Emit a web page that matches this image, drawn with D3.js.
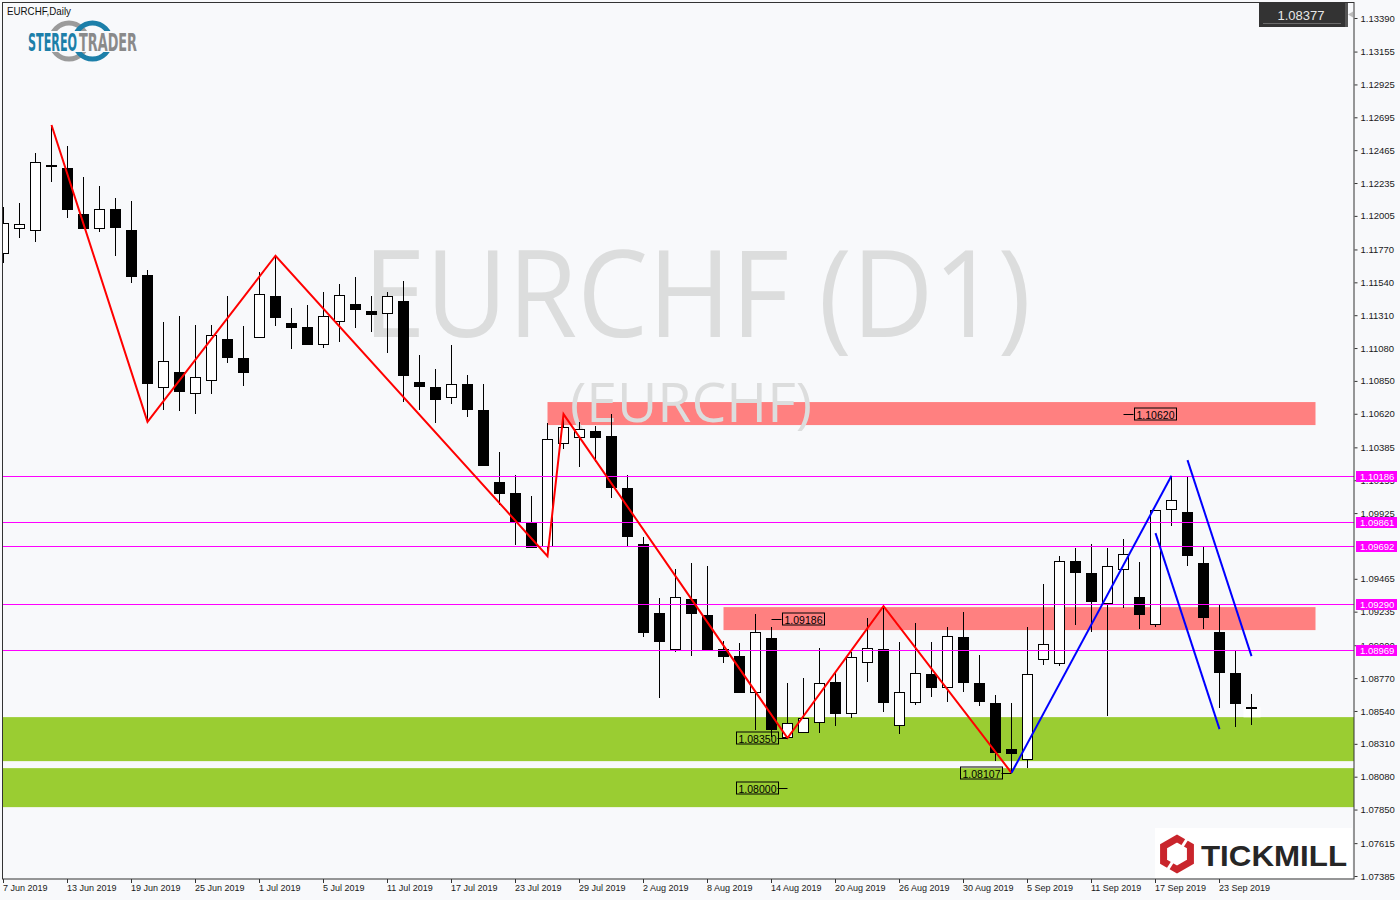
<!DOCTYPE html>
<html><head><meta charset="utf-8">
<script src="https://cdnjs.cloudflare.com/ajax/libs/d3/7.8.5/d3.min.js"></script>
<style>html,body{margin:0;padding:0;background:#f8f9fb;}svg{display:block;}</style>
</head><body><svg id="c" width="1400" height="900"></svg>
<script>
// ---------- DATA ----------
const dates = ["2019-06-07","2019-06-10","2019-06-11","2019-06-12","2019-06-13","2019-06-14","2019-06-17","2019-06-18","2019-06-19","2019-06-20",
"2019-06-21","2019-06-24","2019-06-25","2019-06-26","2019-06-27","2019-06-28","2019-07-01","2019-07-02","2019-07-03","2019-07-04",
"2019-07-05","2019-07-08","2019-07-09","2019-07-10","2019-07-11","2019-07-12","2019-07-15","2019-07-16","2019-07-17","2019-07-18",
"2019-07-19","2019-07-22","2019-07-23","2019-07-24","2019-07-25","2019-07-26","2019-07-29","2019-07-30","2019-07-31","2019-08-01",
"2019-08-02","2019-08-05","2019-08-06","2019-08-07","2019-08-08","2019-08-09","2019-08-12","2019-08-13","2019-08-14","2019-08-15",
"2019-08-16","2019-08-19","2019-08-20","2019-08-21","2019-08-22","2019-08-23","2019-08-26","2019-08-27","2019-08-28","2019-08-29",
"2019-08-30","2019-09-02","2019-09-03","2019-09-04","2019-09-05","2019-09-06","2019-09-09","2019-09-10","2019-09-11","2019-09-12",
"2019-09-13","2019-09-16","2019-09-17","2019-09-18","2019-09-19","2019-09-20","2019-09-23","2019-09-24","2019-09-25"];
const futureDates = ["2019-09-26","2019-09-27","2019-09-30","2019-10-01"];

const open = [1.11745,1.11918,1.11904,1.12361,1.12340,1.12018,1.11918,1.12053,1.11906,1.11591,
1.10805,1.10910,1.10763,1.10854,1.11143,1.11010,1.11155,1.11444,1.11253,1.11227,
1.11106,1.11271,1.11388,1.11339,1.11323,1.11409,1.10842,1.10807,1.10739,1.10828,
1.10646,1.10144,1.10067,1.09857,1.09696,1.10413,1.10459,1.10499,1.10464,1.10098,
1.09706,1.09223,1.08971,1.09321,1.09211,1.08971,1.08924,1.08674,1.09048,1.08355,
1.08390,1.08460,1.08740,1.08523,1.08880,1.08971,1.08441,1.08600,1.08798,1.08705,
1.09059,1.08733,1.08593,1.08271,1.08201,1.08901,1.08873,1.09589,1.09503,1.09293,
1.09531,1.09337,1.09146,1.09951,1.09932,1.09573,1.09090,1.08805,1.08569];
const high = [1.12069,1.12095,1.12443,1.12641,1.12494,1.12279,1.12214,1.12132,1.12111,1.11626,
1.11264,1.11304,1.11241,1.11241,1.11444,1.11234,1.11610,1.11726,1.11360,1.11381,
1.11472,1.11528,1.11579,1.11444,1.11470,1.11549,1.11031,1.10933,1.11101,1.10891,
1.10828,1.10350,1.10191,1.10044,1.10553,1.10618,1.10560,1.10536,1.10616,1.10191,
1.09759,1.09328,1.09533,1.09573,1.09554,1.09031,1.09013,1.09218,1.09129,1.08733,
1.08768,1.08978,1.08807,1.08954,1.09188,1.09274,1.09020,1.09153,1.09020,1.09129,
1.09230,1.08931,1.08651,1.08593,1.09125,1.09426,1.09624,1.09682,1.09708,1.09682,
1.09743,1.09580,1.09946,1.10186,1.10179,1.09685,1.09281,1.08961,1.08658];
const low = [1.11673,1.11852,1.11824,1.12244,1.11988,1.11913,1.11894,1.11726,1.11537,1.10564,
1.10646,1.10641,1.10616,1.10756,1.10973,1.10816,1.11150,1.11236,1.11071,1.11101,
1.11078,1.11124,1.11222,1.11194,1.11043,1.10704,1.10646,1.10557,1.10688,1.10595,
1.10254,1.09981,1.09701,1.09684,1.09624,1.10371,1.10245,1.10284,1.10028,1.09689,
1.09059,1.08628,1.08954,1.08924,1.08966,1.08873,1.08667,1.08406,1.08357,1.08350,
1.08387,1.08383,1.08436,1.08492,1.08744,1.08534,1.08376,1.08581,1.08639,1.08600,
1.08670,1.08576,1.08189,1.08107,1.08138,1.08863,1.08856,1.09141,1.09094,1.08504,
1.09262,1.09111,1.09125,1.09836,1.09556,1.09111,1.08558,1.08429,1.08439];
const close = [1.11955,1.11946,1.12380,1.12351,1.12055,1.11918,1.12053,1.11929,1.11586,1.10837,
1.10989,1.10781,1.10877,1.11169,1.11019,1.10914,1.11458,1.11299,1.11229,1.11106,
1.11304,1.11451,1.11351,1.11316,1.11444,1.10893,1.10816,1.10725,1.10828,1.10655,
1.10259,1.10063,1.09864,1.09689,1.10441,1.10525,1.10511,1.10455,1.10109,1.09766,
1.09094,1.09031,1.09335,1.09227,1.08973,1.08926,1.08674,1.09090,1.08411,1.08453,
1.08488,1.08737,1.08527,1.08915,1.08978,1.08604,1.08670,1.08807,1.08705,1.09066,
1.08744,1.08609,1.08254,1.08243,1.08796,1.09006,1.09589,1.09514,1.09311,1.09554,
1.09638,1.09216,1.09944,1.10014,1.09633,1.09195,1.08810,1.08593,1.08566];

const xTickDates = ["2019-06-07","2019-06-13","2019-06-19","2019-06-25","2019-07-01","2019-07-05","2019-07-11","2019-07-17","2019-07-23","2019-07-29",
"2019-08-02","2019-08-08","2019-08-14","2019-08-20","2019-08-26","2019-08-30","2019-09-05","2019-09-11","2019-09-17","2019-09-23"];
const yTickValues = [1.13390,1.13155,1.12925,1.12695,1.12465,1.12235,1.12005,1.11770,1.11540,1.11310,1.11080,1.10850,1.10620,1.10385,
1.10155,1.09925,1.09465,1.09235,1.09000,1.08770,1.08540,1.08310,1.08080,1.07850,1.07615,1.07385];

const levelPrices = [1.10186,1.09861,1.09692,1.09290,1.08969];

const redZoneStart = ["2019-07-25","2019-08-09"];
const redZoneEnd = ["2019-10-01","2019-10-01"];
const redZoneTop = [1.10702,1.09267];
const redZoneBottom = [1.10541,1.09106];

const greenZoneTop = [1.08497,1.08140];
const greenZoneBottom = [1.08189,1.07867];

const zigzagDates = ["2019-06-12","2019-06-20","2019-07-02","2019-07-25","2019-07-26","2019-08-15","2019-08-23","2019-09-04"];
const zigzagPrices = [1.12641,1.10564,1.11726,1.09624,1.10618,1.08350,1.09274,1.08107];

const blueStartDates = ["2019-09-04","2019-09-17","2019-09-19"];
const blueStartPrices = [1.08107,1.09785,1.10296];
const blueEndDates = ["2019-09-18","2019-09-23","2019-09-25"];
const blueEndPrices = [1.10186,1.08413,1.08924];

const markPrices = [1.10620,1.09186,1.08350,1.08000,1.08107];
const markDates = ["2019-09-13","2019-08-14","2019-08-15","2019-08-15","2019-09-04"];
const markSide = ["right","right","left","left","left"];

const lastPrice = 1.08377;

// ---------- LAYOUT ----------
const L = 3, R = 1354, T = 2, B = 879;
const svg = d3.select("#c");
const FONT = "'Liberation Sans', Arial, sans-serif";

const x = d3.scalePoint().domain(dates.concat(futureDates)).range([3.5, 3.5 + 16 * (dates.length + futureDates.length - 1)]);
const y = d3.scaleLinear().domain([1.07385, 1.13390]).range([876, 18]);

svg.append("rect").attr("width",1400).attr("height",900).attr("fill","#f8f9fb");

svg.append("defs").append("clipPath").attr("id","plot")
  .append("rect").attr("x",L).attr("y",T).attr("width",R-L).attr("height",B-T);

const plot = svg.append("g").attr("clip-path","url(#plot)");

// green zones
plot.selectAll("rect.g").data(greenZoneTop).enter().append("rect")
  .attr("x",L).attr("width",R-L)
  .attr("y",(d)=>y(d)).attr("height",(d,i)=>y(greenZoneBottom[i])-y(d))
  .attr("fill","#9acd32");

// red zones
plot.selectAll("rect.r").data(redZoneTop).enter().append("rect")
  .attr("x",(d,i)=>x(redZoneStart[i])).attr("width",(d,i)=>x(redZoneEnd[i])-x(redZoneStart[i]))
  .attr("y",(d)=>y(d)).attr("height",(d,i)=>y(redZoneBottom[i])-y(d))
  .attr("fill","#ff8080");

// watermark
plot.append("text").attr("x",697).attr("y",337).attr("text-anchor","middle")
  .attr("font-family","'Open Sans','Noto Sans',sans-serif").attr("font-size",121)
  .attr("textLength",668).attr("lengthAdjust","spacingAndGlyphs")
  .attr("fill","#dcdddd").text("EURCHF (D1)");
plot.append("text").attr("x",691).attr("y",422).attr("text-anchor","middle")
  .attr("font-family","'Open Sans','Noto Sans',sans-serif").attr("font-size",54)
  .attr("textLength",242).attr("lengthAdjust","spacingAndGlyphs")
  .attr("fill","#dcdddd").text("(EURCHF)");

// small white patch near last bar
plot.append("rect").attr("x",x(dates[dates.length-1])-8).attr("y",y(close[close.length-1])).attr("width",17).attr("height",10).attr("fill","#ffffff");

// candles
const idx = d3.range(dates.length);
plot.selectAll("line.w").data(idx).enter().append("line")
  .attr("x1",i=>x(dates[i])).attr("x2",i=>x(dates[i]))
  .attr("y1",i=>Math.round(y(high[i]))).attr("y2",i=>Math.round(y(low[i])))
  .attr("stroke","#000").attr("stroke-width",1);
plot.selectAll("rect.c").data(idx).enter().append("rect")
  .attr("x",i=>x(dates[i])-5).attr("width",10)
  .attr("y",i=>Math.round(y(Math.max(open[i],close[i])))+0.5)
  .attr("height",i=>Math.max(1,Math.round(y(Math.min(open[i],close[i])))-Math.round(y(Math.max(open[i],close[i])))))
  .attr("fill",i=>close[i]>=open[i]?"#ffffff":"#000000")
  .attr("stroke","#000").attr("stroke-width",1);

// magenta levels
plot.selectAll("line.lv").data(levelPrices).enter().append("line")
  .attr("x1",L).attr("x2",R).attr("y1",d=>Math.round(y(d))+0.5).attr("y2",d=>Math.round(y(d))+0.5)
  .attr("stroke","#ff00ff").attr("stroke-width",1);

// zigzag
const line = d3.line().x(d=>x(d[0])).y(d=>y(d[1]));
plot.append("path").attr("d",line(zigzagDates.map((d,i)=>[d,zigzagPrices[i]])))
  .attr("fill","none").attr("stroke","#ff0000").attr("stroke-width",2);
plot.selectAll("path.b").data(blueStartDates).enter().append("path")
  .attr("d",(d,i)=>line([[d,blueStartPrices[i]],[blueEndDates[i],blueEndPrices[i]]]))
  .attr("fill","none").attr("stroke","#0000ff").attr("stroke-width",2);

// price marks
markPrices.forEach((p,i)=>{
  const ax = x(markDates[i]), ay = Math.round(y(p))+0.5;
  const bx = markSide[i]==="right" ? ax+10 : ax-52;
  const lx1 = markSide[i]==="right" ? ax : ax-10, lx2 = markSide[i]==="right" ? ax+10 : ax;
  plot.append("line").attr("x1",lx1).attr("x2",lx2).attr("y1",ay).attr("y2",ay).attr("stroke","#000");
  plot.append("rect").attr("x",Math.round(bx)+0.5).attr("y",ay-6.5).attr("width",42).attr("height",12)
    .attr("fill","none").attr("stroke","#000");
  plot.append("text").attr("x",Math.round(bx)+21.5).attr("y",ay+4).attr("text-anchor","middle")
    .attr("font-family",FONT).attr("font-size",10.5).attr("fill","#000").text(d3.format(".5f")(p));
});

// frame
svg.append("rect").attr("x",2.5).attr("y",2.5).attr("width",R-2.5).attr("height",B-2.5)
  .attr("fill","none").attr("stroke","#333").attr("stroke-width",1);

// right axis
const yAxis = d3.axisRight(y).tickValues(yTickValues).tickSize(3).tickPadding(3).tickSizeOuter(0)
  .tickFormat(d3.format(".5f"));
const ga = svg.append("g").attr("transform",`translate(${R+0.5},0)`).call(yAxis);
ga.select(".domain").remove();
ga.selectAll("line").attr("stroke","#333");
ga.selectAll("text").attr("font-family",FONT).attr("font-size",9.5).attr("fill","#1a1a1a");

// level labels on axis
levelPrices.forEach(p=>{
  const cy = Math.round(y(p));
  svg.append("rect").attr("x",1356).attr("y",cy-5).attr("width",41).attr("height",11).attr("fill","#ff00ff");
  svg.append("text").attr("x",1360).attr("y",cy+4).attr("font-family",FONT).attr("font-size",9.5)
    .attr("fill","#ffffff").text(d3.format(".5f")(p));
});

// bottom axis
const fmt = d3.timeFormat("%-d %b %Y"), parse = d3.timeParse("%Y-%m-%d");
const gx = svg.append("g");
gx.selectAll("line").data(xTickDates).enter().append("line")
  .attr("x1",d=>x(d)).attr("x2",d=>x(d)).attr("y1",B).attr("y2",B+4).attr("stroke","#333");
gx.selectAll("text").data(xTickDates).enter().append("text")
  .attr("x",d=>x(d)-0.5).attr("y",891).attr("font-family",FONT).attr("font-size",9)
  .attr("fill","#1a1a1a").text(d=>fmt(parse(d)));

// title
svg.append("text").attr("x",7).attr("y",15).attr("font-family",FONT).attr("font-size",10.5)
  .attr("textLength",64).attr("lengthAdjust","spacingAndGlyphs").attr("fill","#111").text("EURCHF,Daily");

// price box
svg.append("rect").attr("x",1259).attr("y",3).attr("width",86).attr("height",24).attr("fill","#333333");
svg.append("line").attr("x1",1263).attr("x2",1341).attr("y1",23.5).attr("y2",23.5).attr("stroke","#6a6a6a");
svg.append("rect").attr("x",1345).attr("y",3).attr("width",3).attr("height",24).attr("fill","#555");
svg.append("path").attr("d","M1348,14.5 L1353,11.5 L1353,17.5 Z").attr("fill","#bbb");
svg.append("text").attr("x",1301).attr("y",20).attr("text-anchor","middle").attr("font-family",FONT)
  .attr("font-size",13).attr("fill","#e8e8e8").text(d3.format(".5f")(lastPrice));

// STEREOTRADER logo
const lg = svg.append("g");
lg.append("circle").attr("cx",69).attr("cy",41).attr("r",18).attr("fill","none").attr("stroke","#9b9b9b").attr("stroke-width",5);
lg.append("circle").attr("cx",92.5).attr("cy",41).attr("r",18).attr("fill","none").attr("stroke","#1c7fa9").attr("stroke-width",5);
lg.append("rect").attr("x",25).attr("y",31).attr("width",116).attr("height",21).attr("fill","#f8f9fb");
lg.append("text").attr("x",28).attr("y",51).attr("font-family","'Liberation Sans Narrow','DejaVu Sans Condensed',sans-serif")
  .attr("font-weight","bold").attr("font-size",25).attr("textLength",49).attr("lengthAdjust","spacingAndGlyphs")
  .attr("fill","#1c7fa9").text("STEREO");
lg.append("text").attr("x",79).attr("y",51).attr("font-family","'Liberation Sans Narrow','DejaVu Sans Condensed',sans-serif")
  .attr("font-weight","bold").attr("font-size",25).attr("textLength",58).attr("lengthAdjust","spacingAndGlyphs")
  .attr("fill","#8a8a8a").text("TRADER");

// TICKMILL logo
const tk = svg.append("g");
tk.append("rect").attr("x",1155).attr("y",828).attr("width",197).attr("height",50).attr("fill","#ffffff");
const hex = d3.range(6).map(k=>{const a=Math.PI/2+k*Math.PI/3;return [1177+15.5*Math.cos(a),854+15.5*Math.sin(a)];});
tk.append("path").attr("d","M"+hex.map(p=>p.join(",")).join("L")+"Z").attr("fill","none")
  .attr("stroke","#c9252c").attr("stroke-width",7).attr("stroke-linejoin","miter");
tk.append("line").attr("x1",1168).attr("y1",869).attr("x2",1187).attr("y2",839).attr("stroke","#ffffff").attr("stroke-width",3);
tk.append("text").attr("x",1201).attr("y",866).attr("font-family","'Liberation Sans',Arial,sans-serif").attr("font-weight","bold")
  .attr("font-size",30).attr("textLength",146).attr("lengthAdjust","spacingAndGlyphs").attr("fill","#262626").text("TICKMILL");
</script></body></html>
